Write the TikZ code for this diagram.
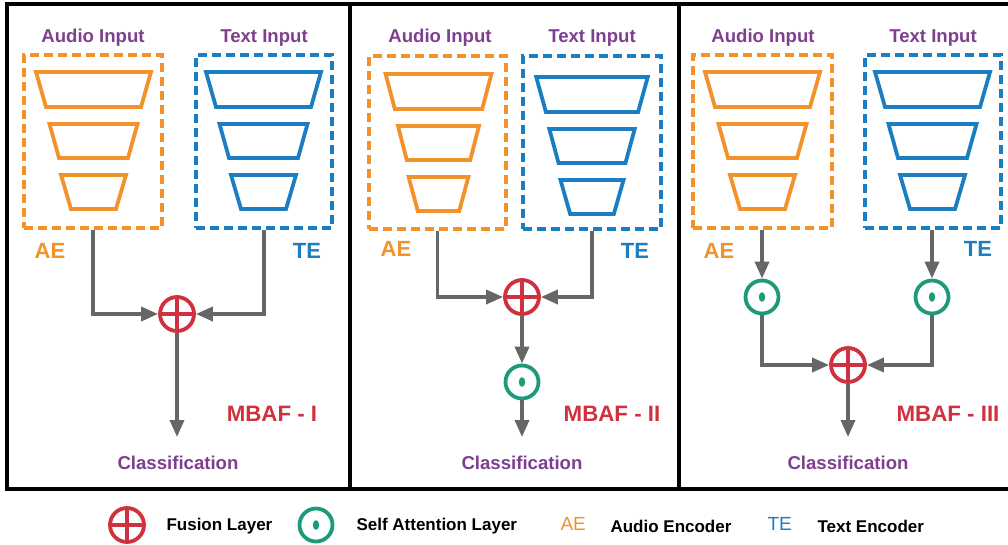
\documentclass[tikz,border=0pt]{standalone}
\usepackage{fontspec}
\setmainfont{Liberation Sans}
\usetikzlibrary{arrows.meta}
\definecolor{cOr}{HTML}{F3922A}
\definecolor{cBl}{HTML}{1B7EC2}
\definecolor{cPu}{HTML}{7E3F8F}
\definecolor{cRd}{HTML}{D0313F}
\definecolor{cGr}{HTML}{1C9A7A}
\definecolor{cGy}{HTML}{666666}
\tikzset{
  panel/.style={draw=black,line width=3.2pt},
  encbox/.style={draw,dashed,dash pattern=on 9pt off 5pt,line width=3.8pt,minimum width=#1,minimum height=173pt,inner sep=0pt},
  trapl/.style={line width=3.8pt,line join=miter},
  intxt/.style={text=cPu,font=\bfseries\fontsize{18.6}{20}\selectfont},
  enclab/.style={font=\bfseries\fontsize{22}{24}\selectfont},
  mbaf/.style={text=cRd,font=\bfseries\fontsize{22.3}{24}\selectfont},
  legtxt/.style={anchor=west,font=\bfseries\fontsize{17}{19}\selectfont},
  fusion/.style={circle,draw=cRd,line width=3.8pt,minimum size=34pt,inner sep=0pt,
    path picture={\draw[cRd,line width=3.4pt] (path picture bounding box.north) -- (path picture bounding box.south)
      (path picture bounding box.west) -- (path picture bounding box.east);}},
  selfatt/.style={circle,draw=cGr,line width=3.8pt,minimum size=33pt,inner sep=0pt,
    path picture={\fill[cGr] (path picture bounding box.center) ellipse (3.2pt and 4.8pt);}},
  arr/.style={draw=cGy,line width=3.6pt,-{Triangle[length=17pt,width=14pt]}},
  ln/.style={draw=cGy,line width=3.6pt}
}
% \encoder{cx}{boxtop}{color}{scale}
\newcommand\encoder[4]{%
  \foreach \ty/\by/\tw/\bw in {17/52/57.5/47.5, 69/103/44/34.5, 120/154/32.5/22.5}{%
    \draw[trapl,#3] ({#1-\tw*#4},{#2+\ty}) -- ({#1+\tw*#4},{#2+\ty}) -- ({#1+\bw*#4},{#2+\by}) -- ({#1-\bw*#4},{#2+\by}) -- cycle;
  }%
}
\begin{document}
\begin{tikzpicture}[x=1pt,y=-1pt]
\useasboundingbox (0,0) rectangle (1008,544);
% panels
\draw[panel] (7,4) rectangle (350,489);
\draw[panel] (350,4) rectangle (679,489);
\draw[panel] (679,4) rectangle (1012,489);

% ===== Panel I =====
\node[intxt] (ai1) at (93,38) {Audio Input};
\node[intxt] (ti1) at (264,38) {Text Input};
\node[encbox=138pt,draw=cOr] (ae1) at (93,141.5) {};
\node[encbox=136pt,draw=cBl] (te1) at (264,141.5) {};
\encoder{93.5}{55}{cOr}{1}
\encoder{263.5}{55}{cBl}{1}
\node[enclab,text=cOr] (ael1) at (50,251) {AE};
\node[enclab,text=cBl] (tel1) at (307,251) {TE};
\node[fusion] (f1) at (177,314) {};
\draw[arr] (ae1.south) |- (f1);
\draw[arr] (te1.south) |- (f1);
\coordinate (e1) at (177,437);
\draw[arr] (f1) -- (e1);
\node[mbaf] (m1) at (272,414) {MBAF - I};
\node[intxt] (c1) at (178,463) {Classification};

% ===== Panel II =====
\node[intxt] (ai2) at (440,38) {Audio Input};
\node[intxt] (ti2) at (592,38) {Text Input};
\node[encbox=137pt,draw=cOr] (ae2) at (437.5,142.5) {};
\node[encbox=138pt,draw=cBl] (te2) at (592,142.5) {};
\encoder{438.5}{57}{cOr}{0.92}
\encoder{592}{60}{cBl}{0.97}
\node[enclab,text=cOr] (ael2) at (396,249) {AE};
\node[enclab,text=cBl] (tel2) at (635,251) {TE};
\node[fusion] (f2) at (522,297) {};
\node[selfatt] (s2) at (522,382) {};
\draw[arr] (ae2.south) |- (f2);
\draw[arr] (te2.south) |- (f2);
\draw[arr] (f2) -- (s2);
\coordinate (e2) at (522,437);
\draw[arr] (s2) -- (e2);
\node[mbaf] (m2) at (612,414) {MBAF - II};
\node[intxt] (c2) at (522,463) {Classification};

% ===== Panel III =====
\node[intxt] (ai3) at (763,38) {Audio Input};
\node[intxt] (ti3) at (933,38) {Text Input};
\node[encbox=139pt,draw=cOr] (ae3) at (762.5,141.5) {};
\node[encbox=136pt,draw=cBl] (te3) at (933,141.5) {};
\encoder{762.5}{55}{cOr}{1}
\encoder{932.5}{55}{cBl}{1}
\node[enclab,text=cOr] (ael3) at (719,251) {AE};
\node[enclab,text=cBl] (tel3) at (978,249) {TE};
\node[selfatt] (sa3) at (762,297) {};
\node[selfatt] (st3) at (932,297) {};
\node[fusion] (f3) at (848,365) {};
\draw[arr] (ae3.south -| sa3) -- (sa3);
\draw[arr] (te3.south -| st3) -- (st3);
\draw[arr] (sa3) |- (f3);
\draw[arr] (st3) |- (f3);
\coordinate (e3) at (848,437);
\draw[arr] (f3) -- (e3);
\node[mbaf] (m3) at (948,414) {MBAF - III};
\node[intxt] (c3) at (848,463) {Classification};

% ===== Legend =====
\node[fusion] (lf) at (127,525) {};
\node[legtxt] (lft) at (163,526) {Fusion Layer};
\node[selfatt] (ls) at (316,525) {};
\node[legtxt] (lst) at (353,526) {Self Attention Layer};
\node[anchor=west,text=cOr,font=\fontsize{19}{21}\selectfont] (lae) at (557,524) {AE};
\node[legtxt] (laet) at (607,526) {Audio Encoder};
\node[anchor=west,text=cBl,font=\fontsize{19}{21}\selectfont] (lte) at (764,524) {TE};
\node[legtxt] (ltet) at (814,526) {Text Encoder};
\end{tikzpicture}
\end{document}
